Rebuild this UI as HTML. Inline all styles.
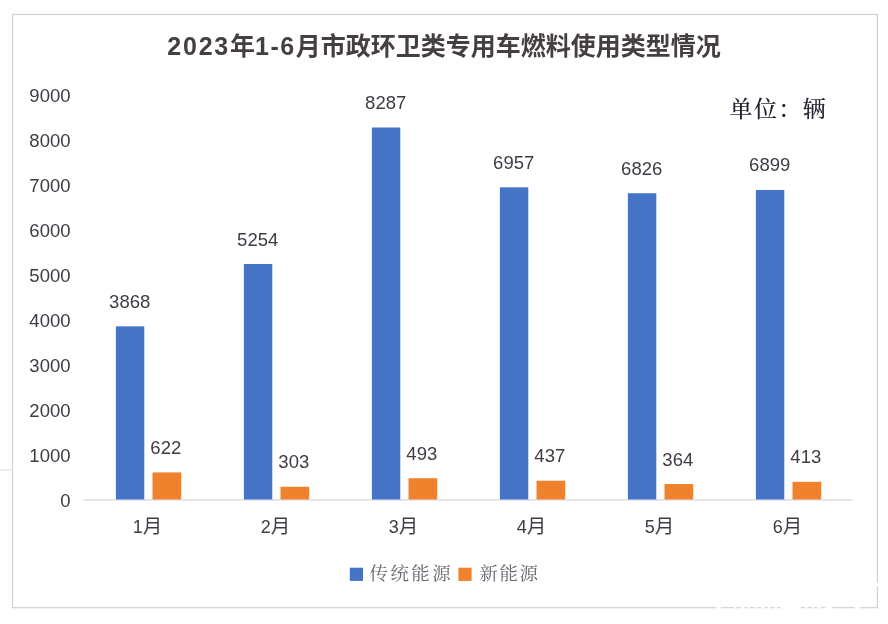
<!DOCTYPE html>
<html lang="zh"><head><meta charset="utf-8"><title>chart</title>
<style>
html,body{margin:0;padding:0;background:#fff;}
body{width:888px;height:624px;position:relative;overflow:hidden;font-family:"Liberation Sans","Noto Sans CJK SC",sans-serif;color:#403a44;}
.abs{position:absolute;}
svg.g{left:0;top:0;}
#wrap{position:absolute;left:0;top:0;width:888px;height:624px;filter:blur(0.45px);}
.title{left:0;width:888px;top:26.5px;text-align:center;font-weight:bold;font-size:25px;line-height:38px;color:#453f42;white-space:nowrap;}
.title .n{letter-spacing:1.8px;}
.title .m{letter-spacing:1.5px;}
.unit{left:729.5px;top:93.5px;font-family:"Liberation Serif","Noto Serif CJK SC",serif;font-size:23px;letter-spacing:1.4px;line-height:32px;color:#262030;font-weight:500;white-space:nowrap;}
.yl{left:19.5px;width:51px;text-align:right;font-size:18.5px;line-height:20px;height:20px;white-space:nowrap;}
.dl{width:60px;text-align:center;font-size:18.5px;line-height:20px;height:20px;white-space:nowrap;}
.ml{width:60px;text-align:center;font-size:18px;line-height:24px;height:24px;white-space:nowrap;}
.ml span{font-size:19.5px;}
.lg{font-family:"Liberation Serif","Noto Serif CJK SC",serif;font-size:18.5px;line-height:26px;color:#6b6670;white-space:nowrap;}
</style></head><body><div id="wrap">

<svg class="abs g" width="888" height="624" viewBox="0 0 888 624">
<rect x="12.5" y="14.5" width="864.9" height="593.2" fill="none" stroke="#d2cfda" stroke-width="1.2"/>
<line x1="0" y1="470.1" x2="10.8" y2="470.1" stroke="#dddae2" stroke-width="1"/>
<line x1="83.7" y1="499.9" x2="852.6" y2="499.9" stroke="#dad4dc" stroke-width="1.1"/>
<rect x="115.9" y="326.34" width="28.4" height="173.16" fill="#4573c6"/>
<rect x="152.5" y="472.41" width="28.7" height="27.09" fill="#f0822e"/>
<rect x="243.9" y="263.97" width="28.4" height="235.53" fill="#4573c6"/>
<rect x="280.5" y="486.76" width="28.7" height="12.74" fill="#f0822e"/>
<rect x="371.9" y="127.49" width="28.4" height="372.01" fill="#4573c6"/>
<rect x="408.5" y="478.21" width="28.7" height="21.29" fill="#f0822e"/>
<rect x="499.9" y="187.33" width="28.4" height="312.17" fill="#4573c6"/>
<rect x="536.5" y="480.73" width="28.7" height="18.77" fill="#f0822e"/>
<rect x="627.9" y="193.23" width="28.4" height="306.27" fill="#4573c6"/>
<rect x="664.5" y="484.02" width="28.7" height="15.48" fill="#f0822e"/>
<rect x="755.9" y="189.94" width="28.4" height="309.56" fill="#4573c6"/>
<rect x="792.5" y="481.81" width="28.7" height="17.69" fill="#f0822e"/>
<rect x="349.8" y="567.7" width="13.2" height="13.2" fill="#4573c6"/>
<rect x="458.4" y="567.7" width="13.2" height="13.2" fill="#f0822e"/>
<rect x="716.2" y="605.5" width="4.5" height="4.5" fill="#fff"/>
<rect x="734.2" y="605.5" width="2.2" height="4.5" fill="#fff"/>
<rect x="740.9" y="605.5" width="3.4" height="4.5" fill="#fff"/>
<rect x="747.7" y="605.5" width="2.2" height="4.5" fill="#fff"/>
<rect x="754.4" y="605.5" width="2.3" height="4.5" fill="#fff"/>
<rect x="761.2" y="605.5" width="3.4" height="4.5" fill="#fff"/>
<rect x="768" y="605.5" width="2.2" height="4.5" fill="#fff"/>
<rect x="774.7" y="605.5" width="2.3" height="4.5" fill="#fff"/>
<rect x="780.3" y="605.5" width="20.3" height="4.5" fill="#fff"/>
<rect x="805" y="605.5" width="2.4" height="4.5" fill="#fff"/>
<rect x="811.9" y="605.5" width="2.2" height="4.5" fill="#fff"/>
<rect x="817.5" y="605.5" width="3.4" height="4.5" fill="#fff"/>
<rect x="825.4" y="605.5" width="6.7" height="4.5" fill="#fff"/>
<rect x="854.7" y="605.5" width="5.6" height="4.5" fill="#fff"/>
<rect x="875.5" y="583" width="4" height="3.5" fill="#fff"/>
</svg>
<div class="abs title"><span class="n">2023</span>年<span class="m">1-6</span>月市政环卫类专用车燃料使用类型情况</div>
<div class="abs unit">单位：辆</div>
<div class="abs yl" style="top:491px">0</div>
<div class="abs yl" style="top:446px">1000</div>
<div class="abs yl" style="top:401px">2000</div>
<div class="abs yl" style="top:356px">3000</div>
<div class="abs yl" style="top:311px">4000</div>
<div class="abs yl" style="top:266px">5000</div>
<div class="abs yl" style="top:221px">6000</div>
<div class="abs yl" style="top:176px">7000</div>
<div class="abs yl" style="top:131px">8000</div>
<div class="abs yl" style="top:86px">9000</div>
<div class="abs dl" style="left:99.7px;top:291.8px">3868</div>
<div class="abs dl" style="left:135.8px;top:438.0px">622</div>
<div class="abs ml" style="left:117.5px;top:514px">1<span>月</span></div>
<div class="abs dl" style="left:227.7px;top:229.5px">5254</div>
<div class="abs dl" style="left:263.8px;top:452.4px">303</div>
<div class="abs ml" style="left:245.5px;top:514px">2<span>月</span></div>
<div class="abs dl" style="left:355.7px;top:93.0px">8287</div>
<div class="abs dl" style="left:391.8px;top:443.8px">493</div>
<div class="abs ml" style="left:373.5px;top:514px">3<span>月</span></div>
<div class="abs dl" style="left:483.7px;top:152.8px">6957</div>
<div class="abs dl" style="left:519.8px;top:446.3px">437</div>
<div class="abs ml" style="left:501.5px;top:514px">4<span>月</span></div>
<div class="abs dl" style="left:611.7px;top:158.7px">6826</div>
<div class="abs dl" style="left:647.8px;top:449.6px">364</div>
<div class="abs ml" style="left:629.5px;top:514px">5<span>月</span></div>
<div class="abs dl" style="left:739.7px;top:155.4px">6899</div>
<div class="abs dl" style="left:775.8px;top:447.4px">413</div>
<div class="abs ml" style="left:757.5px;top:514px">6<span>月</span></div>
<div class="abs lg" style="left:369.5px;top:561px;letter-spacing:2.4px;">传统能源</div>
<div class="abs lg" style="left:479.5px;top:561px;letter-spacing:1.5px;">新能源</div>
</div></body></html>
